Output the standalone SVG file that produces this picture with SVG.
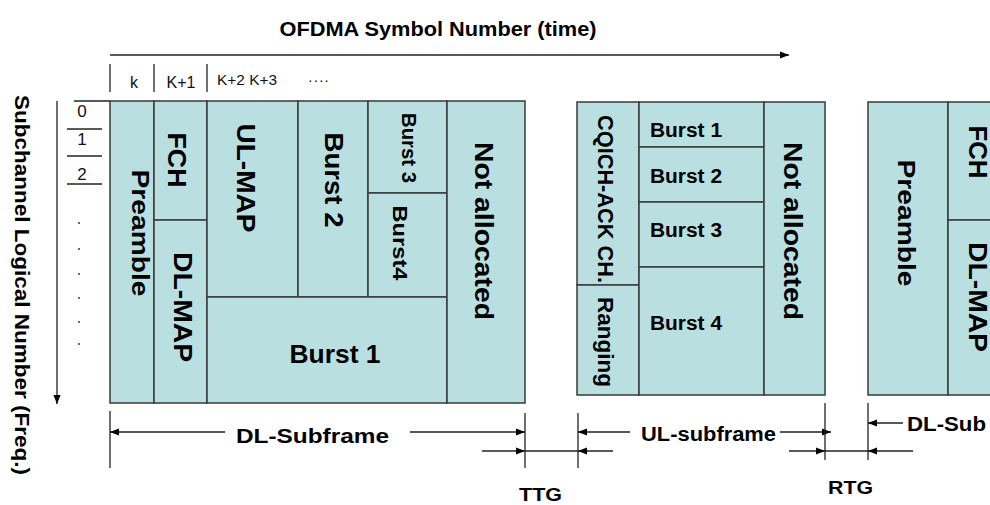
<svg xmlns="http://www.w3.org/2000/svg" width="990" height="505" viewBox="0 0 990 505">
<defs>
<style>
.cell{fill:#B9DFE1;stroke:#3a3a3a;stroke-width:1.5}
.t{font-family:"Liberation Sans",Arial,sans-serif;font-weight:bold;fill:#000}
.r{font-family:"Liberation Sans",Arial,sans-serif;fill:#111}
.ln{stroke:#222;stroke-width:1.3;fill:none}
.ar{stroke:#222;stroke-width:1.3;fill:none;marker-end:url(#ah)}
</style>
<marker id="ah" viewBox="0 0 10 10" refX="10" refY="5" markerWidth="9" markerHeight="9" markerUnits="userSpaceOnUse" orient="auto">
<path d="M0,1 L10,5 L0,9 Z" fill="#000"/>
</marker>
</defs>
<rect width="990" height="505" fill="#fff"/>

<g id="axes">
<text class="t" x="438" y="36" font-size="21" text-anchor="middle" textLength="317" lengthAdjust="spacingAndGlyphs">OFDMA Symbol Number (time)</text>
<line class="ar" x1="110" y1="55" x2="789" y2="55"/>
<line class="ln" x1="110" y1="64" x2="110" y2="92"/>
<line class="ln" x1="154" y1="64" x2="154" y2="92"/>
<line class="ln" x1="207" y1="64" x2="207" y2="92"/>
<text class="r" x="134" y="88" font-size="16" text-anchor="middle">k</text>
<text class="r" x="181" y="88" font-size="16" text-anchor="middle">K+1</text>
<text class="r" x="217" y="85" font-size="14" textLength="60" lengthAdjust="spacingAndGlyphs">K+2 K+3</text>
<text class="r" x="308" y="85" font-size="14" textLength="21" lengthAdjust="spacing">····</text>
<text class="t" transform="translate(22,285) rotate(90)" font-size="20" text-anchor="middle" dy="0.36em" textLength="380" lengthAdjust="spacingAndGlyphs">Subchannel Logical Number (Freq.)</text>
<line class="ar" x1="57" y1="101" x2="57" y2="404"/>
<line class="ln" x1="74" y1="101" x2="110" y2="101"/>
<text class="r" x="82" y="117" font-size="17" text-anchor="middle">0</text>
<line class="ln" x1="67" y1="129" x2="102" y2="129"/>
<text class="r" x="82" y="145" font-size="17" text-anchor="middle">1</text>
<line class="ln" x1="67" y1="156" x2="102" y2="156"/>
<text class="r" x="82" y="180" font-size="17" text-anchor="middle">2</text>
<line class="ln" x1="67" y1="184" x2="102" y2="184"/>
<g fill="#222">
<circle cx="79" cy="223" r="0.9"/>
<circle cx="79" cy="249" r="0.9"/>
<circle cx="79" cy="274" r="0.9"/>
<circle cx="79" cy="298" r="0.9"/>
<circle cx="79" cy="322" r="0.9"/>
<circle cx="79" cy="344" r="0.9"/>
</g>
</g>

<g id="dl-preamble"><rect class="cell" x="110" y="101" width="44" height="302"/>
<text class="t" transform="translate(141,233) rotate(90)" font-size="24" text-anchor="middle" dy="0.36em" textLength="127" lengthAdjust="spacingAndGlyphs">Preamble</text></g>
<g id="dl-fch"><rect class="cell" x="154" y="101" width="53" height="119"/>
<text class="t" transform="translate(177,160) rotate(90)" font-size="26" text-anchor="middle" dy="0.36em" textLength="55" lengthAdjust="spacingAndGlyphs">FCH</text></g>
<g id="dl-dlmap"><rect class="cell" x="154" y="220" width="53" height="183"/>
<text class="t" transform="translate(183,307) rotate(90)" font-size="26" text-anchor="middle" dy="0.36em" textLength="110" lengthAdjust="spacingAndGlyphs">DL-MAP</text></g>
<g id="dl-ulmap"><rect class="cell" x="207" y="101" width="91" height="196"/>
<text class="t" transform="translate(246,178) rotate(90)" font-size="26" text-anchor="middle" dy="0.36em" textLength="109" lengthAdjust="spacingAndGlyphs">UL-MAP</text></g>
<g id="dl-burst2"><rect class="cell" x="298" y="101" width="70" height="196"/>
<text class="t" transform="translate(334,180) rotate(90)" font-size="26" text-anchor="middle" dy="0.36em" textLength="95" lengthAdjust="spacingAndGlyphs">Burst 2</text></g>
<g id="dl-burst3"><rect class="cell" x="368" y="101" width="79" height="92"/>
<text class="t" transform="translate(409,148) rotate(90)" font-size="20" text-anchor="middle" dy="0.36em" textLength="70" lengthAdjust="spacingAndGlyphs">Burst 3</text></g>
<g id="dl-burst4"><rect class="cell" x="368" y="193" width="79" height="104"/>
<text class="t" transform="translate(400,243) rotate(90)" font-size="20" text-anchor="middle" dy="0.36em" textLength="75" lengthAdjust="spacingAndGlyphs">Burst4</text></g>
<g id="dl-burst1"><rect class="cell" x="207" y="297" width="240" height="106"/>
<text class="t" x="335" y="363" font-size="26" text-anchor="middle" textLength="91" lengthAdjust="spacingAndGlyphs">Burst 1</text></g>
<g id="dl-notalloc"><rect class="cell" x="447" y="101" width="78" height="302"/>
<text class="t" transform="translate(484,231) rotate(90)" font-size="26" text-anchor="middle" dy="0.36em" textLength="178" lengthAdjust="spacingAndGlyphs">Not allocated</text></g>

<g id="ul-cqich"><rect class="cell" x="577" y="102" width="62" height="183"/>
<text class="t" transform="translate(606,199) rotate(90)" font-size="22" text-anchor="middle" dy="0.36em" textLength="168" lengthAdjust="spacingAndGlyphs">CQICH-ACK CH.</text></g>
<g id="ul-ranging"><rect class="cell" x="577" y="285" width="62" height="110"/>
<text class="t" transform="translate(606,342) rotate(90)" font-size="22" text-anchor="middle" dy="0.36em" textLength="90" lengthAdjust="spacingAndGlyphs">Ranging</text></g>
<g id="ul-burst1"><rect class="cell" x="639" y="102" width="125" height="45"/>
<text class="t" x="650" y="137" font-size="20" textLength="72" lengthAdjust="spacingAndGlyphs">Burst 1</text></g>
<g id="ul-burst2"><rect class="cell" x="639" y="147" width="125" height="55"/>
<text class="t" x="650" y="183" font-size="20" textLength="72" lengthAdjust="spacingAndGlyphs">Burst 2</text></g>
<g id="ul-burst3"><rect class="cell" x="639" y="202" width="125" height="65"/>
<text class="t" x="650" y="237" font-size="20" textLength="72" lengthAdjust="spacingAndGlyphs">Burst 3</text></g>
<g id="ul-burst4"><rect class="cell" x="639" y="267" width="125" height="128"/>
<text class="t" x="650" y="330" font-size="20" textLength="72" lengthAdjust="spacingAndGlyphs">Burst 4</text></g>
<g id="ul-notalloc"><rect class="cell" x="764" y="102" width="61" height="293"/>
<text class="t" transform="translate(793,231) rotate(90)" font-size="26" text-anchor="middle" dy="0.36em" textLength="178" lengthAdjust="spacingAndGlyphs">Not allocated</text></g>

<g id="dl2-preamble"><rect class="cell" x="868" y="102" width="80" height="293"/>
<text class="t" transform="translate(907,223) rotate(90)" font-size="24" text-anchor="middle" dy="0.36em" textLength="127" lengthAdjust="spacingAndGlyphs">Preamble</text></g>
<g id="dl2-fch"><rect class="cell" x="948" y="102" width="60" height="118"/>
<text class="t" transform="translate(978,152) rotate(90)" font-size="25" text-anchor="middle" dy="0.36em" textLength="53" lengthAdjust="spacingAndGlyphs">FCH</text></g>
<g id="dl2-dlmap"><rect class="cell" x="948" y="220" width="60" height="175"/>
<text class="t" transform="translate(978,297) rotate(90)" font-size="25" text-anchor="middle" dy="0.36em" textLength="110" lengthAdjust="spacingAndGlyphs">DL-MAP</text></g>

<g id="connectors">
<line class="ln" x1="110" y1="411" x2="110" y2="468"/>
<line class="ln" x1="525" y1="413" x2="525" y2="468"/>
<line class="ar" x1="225" y1="432" x2="110" y2="432"/>
<line class="ar" x1="410" y1="432" x2="525" y2="432"/>
<line class="ar" x1="482" y1="451" x2="525" y2="451"/>
<line class="ln" x1="525" y1="451" x2="578" y2="451"/>
<line class="ar" x1="613" y1="451" x2="578" y2="451"/>
<line class="ln" x1="578" y1="413" x2="578" y2="468"/>
<line class="ar" x1="630" y1="432" x2="578" y2="432"/>
<line class="ar" x1="780" y1="432" x2="831" y2="432"/>
<line class="ln" x1="825" y1="403" x2="825" y2="460"/>
<line class="ln" x1="868" y1="403" x2="868" y2="460"/>
<line class="ar" x1="789" y1="451" x2="825" y2="451"/>
<line class="ln" x1="825" y1="451" x2="868" y2="451"/>
<line class="ar" x1="913" y1="451" x2="868" y2="451"/>
<line class="ar" x1="903" y1="423" x2="868" y2="423"/>
</g>

<g id="labels">
<text class="t" x="236" y="443" font-size="21" textLength="153" lengthAdjust="spacingAndGlyphs">DL-Subframe</text>
<text class="t" x="641" y="441" font-size="20" textLength="135" lengthAdjust="spacingAndGlyphs">UL-subframe</text>
<text class="t" x="907" y="431" font-size="20" textLength="79" lengthAdjust="spacingAndGlyphs">DL-Sub</text>
<text class="t" x="519" y="501" font-size="19" textLength="43" lengthAdjust="spacingAndGlyphs">TTG</text>
<text class="t" x="828" y="494" font-size="19" textLength="45" lengthAdjust="spacingAndGlyphs">RTG</text>
</g>
</svg>
